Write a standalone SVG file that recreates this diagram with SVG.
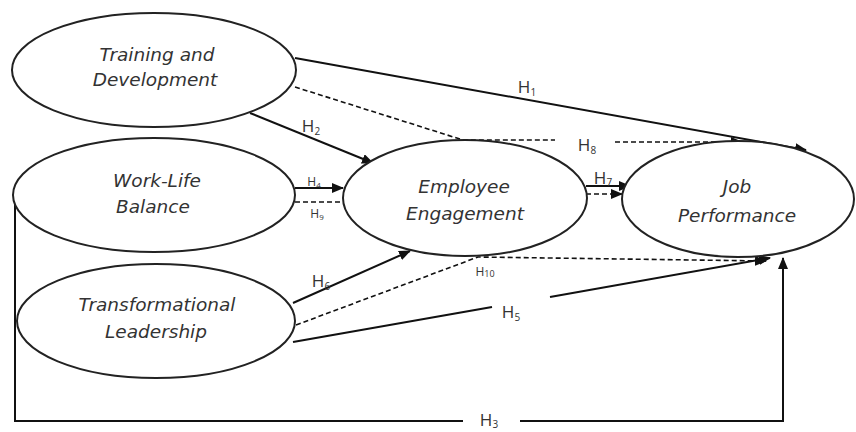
<svg xmlns="http://www.w3.org/2000/svg" width="856" height="432" viewBox="0 0 856 432">
<style>
.node ellipse{fill:#fff;stroke:#222;stroke-width:2}
.lbl{font-family:"DejaVu Sans","Noto Sans",sans-serif;font-style:italic;font-size:18.5px;fill:#333;text-anchor:middle}
.h{font-family:"Open Sans","Noto Sans",sans-serif;font-size:17px;fill:#333;text-anchor:middle}
.hs{font-family:"Open Sans","Noto Sans",sans-serif;font-size:12px;fill:#333;text-anchor:middle}
.c path{fill:none;stroke:#111;stroke-width:2}
.c .d{stroke-dasharray:5,3;stroke-width:1.6}
</style>
<defs>
<marker id="a" markerUnits="userSpaceOnUse" markerWidth="12" markerHeight="10" refX="11" refY="5" orient="auto"><path d="M0,0 L12,5 L0,10 Z" fill="#111"/></marker>
</defs>
<rect width="856" height="432" fill="#fff"/>
<g class="c" id="connectors">
<path d="M295,58 L806,150" marker-end="url(#a)"/>
<path class="d" d="M295,87 L463,140 H555"/>
<path class="d" d="M615,142 H742" marker-end="url(#a)"/>
<path d="M250,113 L373,163" marker-end="url(#a)"/>
<path d="M295,188 H343" marker-end="url(#a)"/>
<path class="d" d="M295,202 H341"/>
<path d="M586,186 H630" marker-end="url(#a)"/>
<path class="d" d="M586,194 H622" marker-end="url(#a)"/>
<path d="M293,303 L410,251" marker-end="url(#a)"/>
<path class="d" d="M296,325 L478,257 L766,261" marker-end="url(#a)"/>
<path d="M293,342 L492,307"/>
<path d="M550,297 L770,258" marker-end="url(#a)"/>
<path d="M15,190 V421 H463"/>
<path d="M520,421 H783 V258" marker-end="url(#a)"/>
</g>
<g id="training" class="node"><ellipse cx="154" cy="70" rx="142" ry="57"/><text class="lbl" x="157" y="61">Training and</text><text class="lbl" x="155" y="86">Development</text></g>
<g id="worklife" class="node"><ellipse cx="154" cy="195" rx="141" ry="57"/><text class="lbl" x="157" y="187">Work-Life</text><text class="lbl" x="153" y="213">Balance</text></g>
<g id="transformational" class="node"><ellipse cx="156" cy="321" rx="139" ry="57"/><text class="lbl" x="157" y="311">Transformational</text><text class="lbl" x="156" y="338">Leadership</text></g>
<g id="engagement" class="node"><ellipse cx="465" cy="198" rx="122" ry="58"/><text class="lbl" x="464" y="193">Employee</text><text class="lbl" x="465" y="220">Engagement</text></g>
<g id="performance" class="node"><ellipse cx="738" cy="199" rx="116" ry="58"/><text class="lbl" x="737" y="193">Job</text><text class="lbl" x="737" y="222">Performance</text></g>
<g id="labels">
<text class="h" x="527" y="93">H<tspan font-size="10" dy="3">1</tspan></text>
<text class="h" x="311" y="132">H<tspan font-size="10" dy="3">2</tspan></text>
<text class="h" x="587" y="151">H<tspan font-size="10" dy="3">8</tspan></text>
<text class="hs" x="314" y="186">H<tspan font-size="8" dy="2">4</tspan></text>
<text class="hs" x="317" y="218">H<tspan font-size="8" dy="2">9</tspan></text>
<text class="h" x="603" y="184">H<tspan font-size="10" dy="2">7</tspan></text>
<text class="h" x="321" y="287">H<tspan font-size="10" dy="3">6</tspan></text>
<text class="hs" x="485" y="276">H<tspan font-size="9" dy="1">10</tspan></text>
<text class="h" x="511" y="318">H<tspan font-size="10" dy="3">5</tspan></text>
<text class="h" x="489" y="426">H<tspan font-size="10" dy="2">3</tspan></text>
</g>
</svg>
